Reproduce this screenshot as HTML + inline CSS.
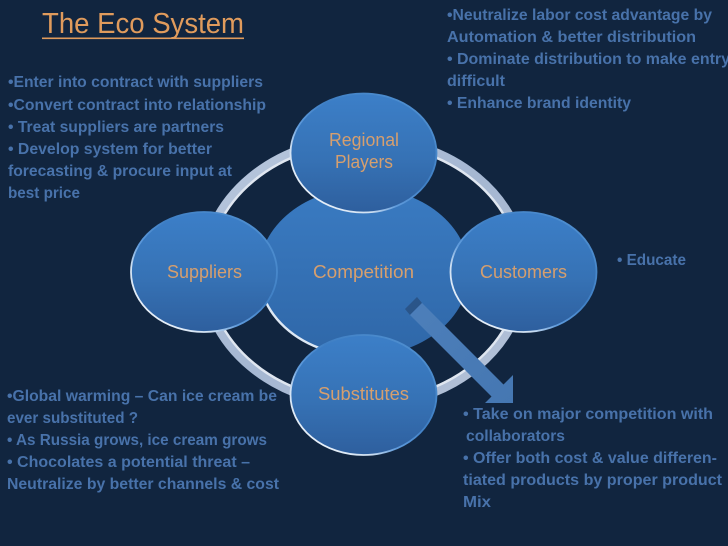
<!DOCTYPE html>
<html><head><meta charset="utf-8"><style>
html,body{margin:0;padding:0;background:#11253f;width:728px;height:546px;overflow:hidden}
svg{display:block}
text{font-family:"Liberation Sans",sans-serif}
.b{font-size:15.5px;font-weight:bold;fill:#4872aa}
.n{font-size:18px;fill:#d69f6e}
</style></head><body>
<svg width="728" height="546" viewBox="0 0 728 546" xmlns="http://www.w3.org/2000/svg">
<defs>
<linearGradient id="f" x1="0" y1="0" x2="0" y2="1"><stop offset="0" stop-color="#3c7fc8"/><stop offset="0.55" stop-color="#3672b5"/><stop offset="1" stop-color="#2e5f9e"/></linearGradient>
<linearGradient id="c" x1="0" y1="0" x2="0" y2="1"><stop offset="0" stop-color="#3a7bc2"/><stop offset="1" stop-color="#2f67a8"/></linearGradient>
<linearGradient id="s" x1="0.1" y1="0.9" x2="0.9" y2="0.1"><stop offset="0" stop-color="#eef4fb"/><stop offset="0.22" stop-color="#cfe0f2"/><stop offset="0.36" stop-color="#5f9bdc"/><stop offset="0.6" stop-color="#3f7fc4"/><stop offset="1" stop-color="#4f8fd0"/></linearGradient>
<linearGradient id="r" x1="0" y1="0" x2="1" y2="1"><stop offset="0" stop-color="#b9c8de"/><stop offset="0.5" stop-color="#a5b7d2"/><stop offset="1" stop-color="#b4c2d8"/></linearGradient>
<linearGradient id="a" x1="0" y1="0" x2="1" y2="1"><stop offset="0" stop-color="#4d7fba"/><stop offset="1" stop-color="#4577b2"/></linearGradient>
</defs>
<rect width="728" height="546" fill="#11253f"/>
<ellipse cx="364" cy="272" rx="160" ry="133" fill="none" stroke="url(#r)" stroke-width="10"/>
<ellipse cx="364" cy="272" rx="156" ry="129" fill="none" stroke="#dfe6f0" stroke-width="2.5"/>
<ellipse cx="364" cy="272" rx="105" ry="84" fill="url(#c)"/>
<path d="M262 292 A105 84 0 0 0 325 350" fill="none" stroke="#dde8f4" stroke-width="2.4"/>
<g stroke="url(#s)" stroke-width="1.8" fill="url(#f)">
<ellipse cx="363.5" cy="153" rx="73" ry="59.5"/>
<ellipse cx="204" cy="272" rx="73" ry="60"/>
<ellipse cx="523.5" cy="272" rx="73" ry="60"/>
<ellipse cx="363.5" cy="395" rx="73" ry="60"/>
</g>
<polygon points="417,297 405,309 410,315 422,303" fill="#2a5589"/>
<polygon points="410,315 422,303 503.5,384.5 513,375 513,403 485,403 491.5,396.5" fill="url(#a)"/>
<text x="42" y="33" font-size="29" fill="#e09b5c" textLength="202" lengthAdjust="spacingAndGlyphs">The Eco System</text>
<rect x="42" y="37.5" width="202" height="1.6" fill="#e09b5c"/>
<text class="n" x="329" y="146" textLength="70" lengthAdjust="spacingAndGlyphs">Regional</text>
<text class="n" x="335" y="168" textLength="58" lengthAdjust="spacingAndGlyphs">Players</text>
<text class="n" x="167" y="278" textLength="75" lengthAdjust="spacingAndGlyphs">Suppliers</text>
<text class="n" x="313" y="278" textLength="101" lengthAdjust="spacingAndGlyphs">Competition</text>
<text class="n" x="480" y="278" textLength="87" lengthAdjust="spacingAndGlyphs">Customers</text>
<text class="n" x="318" y="400" textLength="91" lengthAdjust="spacingAndGlyphs">Substitutes</text>
<text class="b" x="8" y="87" textLength="255" lengthAdjust="spacingAndGlyphs">•Enter into contract with suppliers</text>
<text class="b" x="8" y="110" textLength="258" lengthAdjust="spacingAndGlyphs">•Convert contract into relationship</text>
<text class="b" x="8" y="132" textLength="216" lengthAdjust="spacingAndGlyphs">• Treat suppliers are partners</text>
<text class="b" x="8" y="154" textLength="204" lengthAdjust="spacingAndGlyphs">• Develop system for better</text>
<text class="b" x="8" y="176" textLength="224" lengthAdjust="spacingAndGlyphs">forecasting &amp; procure input at</text>
<text class="b" x="8" y="198" textLength="72" lengthAdjust="spacingAndGlyphs">best price</text>
<text class="b" x="447" y="20" textLength="265" lengthAdjust="spacingAndGlyphs">•Neutralize labor cost advantage by</text>
<text class="b" x="447" y="42" textLength="249" lengthAdjust="spacingAndGlyphs">Automation &amp; better distribution</text>
<text class="b" x="447" y="64" textLength="283" lengthAdjust="spacingAndGlyphs">• Dominate distribution to make entry</text>
<text class="b" x="447" y="86" textLength="58" lengthAdjust="spacingAndGlyphs">difficult</text>
<text class="b" x="447" y="108" textLength="184" lengthAdjust="spacingAndGlyphs">• Enhance brand identity</text>
<text class="b" x="617" y="265" textLength="69" lengthAdjust="spacingAndGlyphs">• Educate</text>
<text class="b" x="7" y="401" textLength="270" lengthAdjust="spacingAndGlyphs">•Global warming – Can ice cream be</text>
<text class="b" x="7" y="423" textLength="131" lengthAdjust="spacingAndGlyphs">ever substituted ?</text>
<text class="b" x="7" y="445" textLength="260" lengthAdjust="spacingAndGlyphs">• As Russia grows, ice cream grows</text>
<text class="b" x="7" y="467" textLength="243" lengthAdjust="spacingAndGlyphs">• Chocolates a potential threat –</text>
<text class="b" x="7" y="489" textLength="272" lengthAdjust="spacingAndGlyphs">Neutralize by better channels &amp; cost</text>
<text class="b" x="463" y="419" textLength="250" lengthAdjust="spacingAndGlyphs">• Take on major competition with</text>
<text class="b" x="466" y="441" textLength="99" lengthAdjust="spacingAndGlyphs">collaborators</text>
<text class="b" x="463" y="463" textLength="254" lengthAdjust="spacingAndGlyphs">• Offer both cost &amp; value differen-</text>
<text class="b" x="463" y="485" textLength="259" lengthAdjust="spacingAndGlyphs">tiated  products by proper product</text>
<text class="b" x="463" y="507" textLength="28" lengthAdjust="spacingAndGlyphs">Mix</text>
</svg>
</body></html>
